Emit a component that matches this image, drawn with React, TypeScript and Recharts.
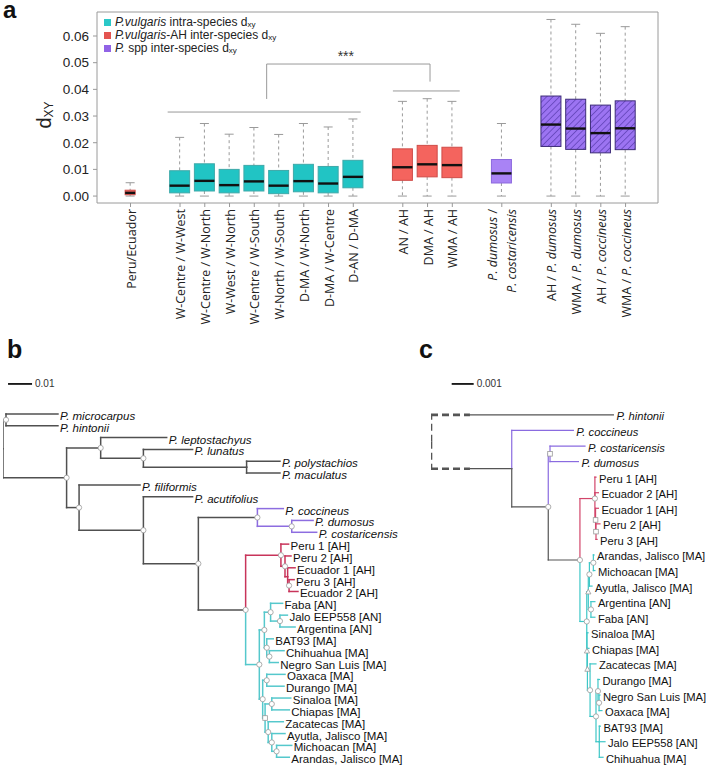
import React from 'react';
import {
  ComposedChart, ScatterChart, Scatter, Bar, XAxis, YAxis,
  ReferenceLine, ReferenceArea, ReferenceDot, Legend, Label,
} from 'recharts';

// ---------------- Panel a : data ----------------
const slots = [
  'Peru/Ecuador', '',
  'W-Centre / W-West', 'W-Centre / W-North', 'W-West / W-North', 'W-Centre / W-South',
  'W-North / W-South', 'D-MA / W-North', 'D-MA / W-Centre', 'D-AN / D-MA', '',
  'AN / AH', 'DMA / AH', 'WMA / AH', '',
  'P. dumosus /\nP. costaricensis', '',
  'AH / P. dumosus', 'WMA / P. dumosus', 'AH / P. coccineus', 'WMA / P. coccineus',
];
const boxGroups = ['ah', 'intra', 'intra', 'intra', 'intra', 'intra', 'intra', 'intra', 'intra',
  'ah', 'ah', 'ah', 'spp', 'hatch', 'hatch', 'hatch', 'hatch'];
const boxMin = [0, 0, 0, 0, 0, 0, 0, 0, 0, 0, 0, 0, 0, 0, 0, 0, 0];
const boxQ1 = [0.0005, 0.0012, 0.0019, 0.0012, 0.0019, 0.0009, 0.0016, 0.0012, 0.0031,
  0.0059, 0.0072, 0.0069, 0.0049, 0.0186, 0.0175, 0.0162, 0.0174];
const boxMed = [0.0012, 0.0039, 0.0057, 0.0041, 0.0055, 0.0039, 0.0056, 0.0047, 0.0072,
  0.0108, 0.0119, 0.0116, 0.0085, 0.0268, 0.0253, 0.0236, 0.0254];
const boxQ3 = [0.0022, 0.0095, 0.0121, 0.0100, 0.0115, 0.0096, 0.0119, 0.0111, 0.0134,
  0.0177, 0.0190, 0.0183, 0.0137, 0.0375, 0.0363, 0.0341, 0.0357];
const boxMax = [0.0050, 0.0220, 0.0272, 0.0232, 0.0257, 0.0231, 0.0272, 0.0259, 0.0289,
  0.0355, 0.0365, 0.0355, 0.0272, 0.0662, 0.0644, 0.0610, 0.0635];
const narrowBoxes = ['Peru/Ecuador'];
const yTicks = [0, 0.01, 0.02, 0.03, 0.04, 0.05, 0.06];
const xDomain: [number, number] = [-1.354, 21.31];
const yDomain: [number, number] = [-0.0026, 0.069];

const legendGroups = ['intra', 'ah', 'spp'];
const legendItalic = ['P.vulgaris', 'P.vulgaris', 'P.'];
const legendRest = [' intra-species d', '-AH inter-species d', ' spp inter-species d'];

// significance brackets [x1, y1, x2, y2]
const brackets: [number, number, number, number][] = [
  [1.5, 0.0315, 9.3, 0.0315],
  [10.6, 0.0394, 13.3, 0.0394],
  [5.5, 0.0364, 5.5, 0.0495],
  [5.5, 0.0495, 12.1, 0.0495],
  [12.1, 0.0495, 12.1, 0.0429],
];
const starMark = { x: 8.7, y: 0.0506, text: '***' };

const palette: Record<string, { fill: string; stroke: string; swatch: string }> = {
  intra: { fill: '#21c4c4', stroke: '#3ea9a9', swatch: '#2ac8c8' },
  ah: { fill: '#f4645e', stroke: '#cf4c48', swatch: '#e45450' },
  spp: { fill: '#a983f5', stroke: '#8c6ade', swatch: '#9163e6' },
  hatch: { fill: 'url(#hatchP)', stroke: '#3d2c78', swatch: '#9163e6' },
};

const boxPositions = slots.map((s, i) => (s ? i : -1)).filter((i) => i >= 0);
const boxData = boxPositions.map((pos, k) => ({
  pos, label: slots[pos], group: boxGroups[k],
  min: boxMin[k], q1: boxQ1[k], med: boxMed[k], q3: boxQ3[k], max: boxMax[k],
}));

const ARIAL = "'Liberation Sans', Arial, sans-serif";
const OPEN = "'Open Sans', sans-serif";

function rich(text: string) {
  const parts = text.split(/(P\. [a-z]+)/).filter(Boolean);
  return parts.map((p, i) =>
    /^P\. [a-z]+$/.test(p)
      ? <tspan key={i} fontStyle="italic">{p}</tspan>
      : <tspan key={i}>{p}</tspan>);
}

const BoxShape = (props: any) => {
  const { x, y, width, height, payload } = props;
  if (!payload) return null;
  const { min, q1, med, q3, max, group, label } = payload;
  const px = (v: number) => y + ((max - v) / (max - min)) * height;
  const cx = x + width / 2;
  const w = narrowBoxes.includes(label) ? 10 : 20;
  const st = palette[group];
  const cap = 4.5;
  return (
    <g>
      <line x1={cx} x2={cx} y1={px(max)} y2={px(q3)} stroke="#9a9a9a" strokeDasharray="3 3" />
      <line x1={cx} x2={cx} y1={px(q1)} y2={px(min)} stroke="#9a9a9a" strokeDasharray="3 3" />
      <line x1={cx - cap} x2={cx + cap} y1={px(max)} y2={px(max)} stroke="#9a9a9a" />
      <line x1={cx - cap} x2={cx + cap} y1={px(min)} y2={px(min)} stroke="#9a9a9a" />
      <rect x={cx - w / 2} y={px(q3)} width={w} height={px(q1) - px(q3)} fill={st.fill} stroke={st.stroke} strokeWidth={1} />
      <line x1={cx - w / 2} x2={cx + w / 2} y1={px(med)} y2={px(med)} stroke="#111" strokeWidth={2.4} />
    </g>
  );
};

const XTick = (props: any) => {
  const { x, y, payload } = props;
  const lbl = slots[Math.round(payload.value)] || '';
  const lines = lbl.split('\n');
  const n = lines.length;
  return (
    <g transform={`translate(${x},${y}) rotate(-90)`}>
      {lines.map((ln, i) => (
        <text key={i} x={0} y={(i - (n - 1) / 2) * 19} textAnchor="end" dominantBaseline="central"
          fontSize={12.5} fontFamily={OPEN} fill="#222">{rich(ln)}</text>
      ))}
    </g>
  );
};

const DxyLabel = () => (
  <text transform="translate(51,115) rotate(-90)" textAnchor="middle" fontFamily={ARIAL} fill="#222">
    <tspan fontSize={20}>d</tspan><tspan fontSize={12} dy={2}>XY</tspan>
  </text>
);

const StarShape = (p: any) => (
  <text x={p.cx} y={p.cy} textAnchor="middle" fontSize={14} fontFamily={ARIAL} fill="#333">{starMark.text}</text>
);

const LegendContent = () => (
  <div style={{ fontFamily: ARIAL, fontSize: 12, color: '#222', lineHeight: '13px' }}>
    {legendGroups.map((g, i) => (
      <div key={g} style={{ display: 'flex', alignItems: 'center', height: 13, whiteSpace: 'nowrap' }}>
        <span style={{ width: 7, height: 7, background: palette[g].swatch, marginRight: 4, display: 'inline-block' }} />
        <span style={{ lineHeight: '13px' }}>
          <i>{legendItalic[i]}</i>{legendRest[i]}
          <span style={{ fontSize: 8, lineHeight: '8px', position: 'relative', top: 1 }}>xy</span>
        </span>
      </div>
    ))}
  </div>
);

function PanelA() {
  return (
    <ComposedChart width={708} height={340} data={boxData} margin={{ top: 12, right: 50, bottom: 17, left: 0 }}>
      <defs>
        <pattern id="hatchP" patternUnits="userSpaceOnUse" width="4.5" height="4.5" patternTransform="rotate(45)">
          <rect width="4.5" height="4.5" fill="#9c74f2" />
          <line x1="0" y1="0" x2="0" y2="4.5" stroke="#5a3eb0" strokeWidth="1.4" />
        </pattern>
      </defs>
      <XAxis type="number" dataKey="pos" domain={xDomain} allowDataOverflow ticks={boxPositions}
        interval={0} tick={<XTick />} tickLine={{ stroke: '#999' }} tickSize={4} tickMargin={2}
        axisLine={false} height={120} />
      <YAxis type="number" domain={yDomain} allowDataOverflow ticks={yTicks} interval={0}
        tickFormatter={(v: number) => v.toFixed(2)} width={97}
        tick={{ fontSize: 13.5, fill: '#222', fontFamily: ARIAL }} tickLine={{ stroke: '#999' }}
        tickSize={4} tickMargin={4} axisLine={false}>
        <Label content={DxyLabel} />
      </YAxis>
      <ReferenceArea x1={xDomain[0]} x2={xDomain[1]} y1={yDomain[0]} y2={yDomain[1]}
        fill="none" stroke="#9a9a9a" strokeWidth={1} fillOpacity={0} ifOverflow="visible" />
      <Bar dataKey={(d: any) => [d.min, d.max]} barSize={20} shape={BoxShape} isAnimationActive={false} />
      {brackets.map((b, i) => (
        <ReferenceLine key={i} segment={[{ x: b[0], y: b[1] }, { x: b[2], y: b[3] }]}
          stroke="#999" strokeWidth={1} ifOverflow="visible" />
      ))}
      <ReferenceDot x={starMark.x} y={starMark.y} r={0} shape={StarShape} ifOverflow="visible" />
      <Legend content={LegendContent} layout="vertical" align="center" verticalAlign="middle"
        wrapperStyle={{ left: 104, top: 15.5, width: 320, height: 40 }} />
    </ComposedChart>
  );
}

// ---------------- Trees : data ----------------
// [id/label, parent, cumulative distance, colour key, node marker]
type TRow = [string, string, number, string, string?];

const treeB: TRow[] = [
  ['R', '', 0, 'k', ''],
  ['N1', 'R', 0.00125, 'k', 'o'],
  ['P. microcarpus', 'N1', 0.0229, 'k'],
  ['P. hintonii', 'N1', 0.0229, 'k'],
  ['N2', 'R', 0.0265, 'k', 'o'],
  ['N3', 'N2', 0.0407, 'k', 'o'],
  ['P. leptostachyus', 'N3', 0.0682, 'k'],
  ['N4', 'N3', 0.0585, 'k', 'o'],
  ['P. lunatus', 'N4', 0.0790, 'k'],
  ['N5', 'N4', 0.1015, 'k', ''],
  ['P. polystachios', 'N5', 0.1154, 'k'],
  ['P. maculatus', 'N5', 0.1154, 'k'],
  ['N6', 'N2', 0.0317, 'k', 'o'],
  ['P. filiformis', 'N6', 0.0571, 'k'],
  ['N7', 'N6', 0.0585, 'k', 'o'],
  ['P. acutifolius', 'N7', 0.0790, 'k'],
  ['N8', 'N7', 0.0814, 'k', 'o'],
  ['N9', 'N8', 0.1060, 'k', 'o'],
  ['P. coccineus', 'N9', 0.1168, 'p'],
  ['N10', 'N9', 0.1203, 'p', 'o'],
  ['P. dumosus', 'N10', 0.1292, 'p'],
  ['P. costaricensis', 'N10', 0.1307, 'p'],
  ['N11', 'N8', 0.1011, 'k', 'o'],
  ['A1', 'N11', 0.1158, 'r', 'o'],
  ['Peru 1 [AH]', 'A1', 0.1190, 'r'],
  ['A2', 'A1', 0.1175, 'r', 'o'],
  ['Peru 2 [AH]', 'A2', 0.1200, 'r'],
  ['A3', 'A2', 0.1186, 'r', ''],
  ['Ecuador 1 [AH]', 'A3', 0.1217, 'r'],
  ['A4', 'A3', 0.1192, 'r', 'o'],
  ['Peru 3 [AH]', 'A4', 0.1213, 'r'],
  ['Ecuador 2 [AH]', 'A4', 0.1229, 'r'],
  ['C0', 'N11', 0.1068, 'c', 'o'],
  ['C1', 'C0', 0.1089, 'c', 'o'],
  ['X1', 'C1', 0.1115, 'c', 'o'],
  ['Faba [AN]', 'X1', 0.1165, 'c'],
  ['JA', 'X1', 0.1154, 'c', 'o'],
  ['Jalo EEP558 [AN]', 'JA', 0.1185, 'c'],
  ['Argentina [AN]', 'JA', 0.1217, 'c'],
  ['X2', 'C1', 0.1099, 'c', 'o'],
  ['BAT93 [MA]', 'X2', 0.1126, 'c'],
  ['CN', 'X2', 0.1110, 'c', 'o'],
  ['Chihuahua [MA]', 'CN', 0.1171, 'c'],
  ['Negro San Luis [MA]', 'CN', 0.1147, 'c'],
  ['C2', 'C0', 0.1082, 'c', 'o'],
  ['X3', 'C2', 0.1099, 'c', 'o'],
  ['Oaxaca [MA]', 'X3', 0.1175, 'c'],
  ['Durango [MA]', 'X3', 0.1171, 'c'],
  ['C3', 'C2', 0.1092, 'c', 's'],
  ['X4', 'C3', 0.1120, 'c', 'o'],
  ['Sinaloa [MA]', 'X4', 0.1199, 'c'],
  ['Chiapas [MA]', 'X4', 0.1193, 'c'],
  ['X5', 'C3', 0.1105, 'c', 'o'],
  ['Zacatecas [MA]', 'X5', 0.1168, 'c'],
  ['X6', 'X5', 0.1120, 'c', 'o'],
  ['Ayutla, Jalisco [MA]', 'X6', 0.1175, 'c'],
  ['X7', 'X6', 0.1140, 'c', 'o'],
  ['Michoacan [MA]', 'X7', 0.1203, 'c'],
  ['Arandas, Jalisco [MA]', 'X7', 0.1193, 'c'],
];

const treeC: TRow[] = [
  ['R', '', 0, 'k', ''],
  ['P. hintonii', 'R', 0.00829, 'k'],
  ['N1', 'R', 0.00367, 'k', ''],
  ['P. coccineus', 'N1', 0.00647, 'p'],
  ['N2', 'N1', 0.00533, 'k', 'o'],
  ['D', 'N2', 0.00541, 'p', 's'],
  ['P. costaricensis', 'D', 0.00700, 'p'],
  ['P. dumosus', 'D', 0.00670, 'p'],
  ['V', 'N2', 0.00677, 'k', 'o'],
  ['A1', 'V', 0.00745, 'r', 'o'],
  ['Peru 1 [AH]', 'A1', 0.00750, 'r'],
  ['Ecuador 2 [AH]', 'A1', 0.00761, 'r'],
  ['A2', 'A1', 0.00748, 'r', 's'],
  ['Ecuador 1 [AH]', 'A2', 0.00761, 'r'],
  ['A3', 'A2', 0.00750, 'r', 's'],
  ['Peru 2 [AH]', 'A3', 0.00768, 'r'],
  ['Peru 3 [AH]', 'A3', 0.00755, 'r'],
  ['CC', 'V', 0.00708, 'c', 'o'],
  ['U', 'CC', 0.00715, 'c', 't'],
  ['AMA', 'U', 0.00720, 'c', 'o'],
  ['AM', 'AMA', 0.00738, 'c', 'o'],
  ['Arandas, Jalisco [MA]', 'AM', 0.00741, 'c'],
  ['Michoacan [MA]', 'AM', 0.00745, 'c'],
  ['Ayutla, Jalisco [MA]', 'AMA', 0.00732, 'c'],
  ['AF', 'U', 0.00727, 'c', 'o'],
  ['Argentina [AN]', 'AF', 0.00745, 'c'],
  ['Faba [AN]', 'AF', 0.00745, 'c'],
  ['L', 'CC', 0.00709, 'c', 't'],
  ['Sinaloa [MA]', 'L', 0.00714, 'c'],
  ['S2', 'L', 0.00711, 'c', 't'],
  ['Chiapas [MA]', 'S2', 0.00718, 'c'],
  ['S3', 'S2', 0.00723, 'c', 'o'],
  ['Zacatecas [MA]', 'S3', 0.00750, 'c'],
  ['DB', 'S3', 0.00750, 'c', 'o'],
  ['DNO', 'DB', 0.00759, 'c', 'o'],
  ['Durango [MA]', 'DNO', 0.00766, 'c'],
  ['NO', 'DNO', 0.00764, 'c', 'o'],
  ['Negro San Luis [MA]', 'NO', 0.00768, 'c'],
  ['Oaxaca [MA]', 'NO', 0.00777, 'c'],
  ['BJC', 'DB', 0.00765, 'c', ''],
  ['BAT93 [MA]', 'BJC', 0.00770, 'c'],
  ['Jalo EEP558 [AN]', 'BJC', 0.00791, 'c'],
  ['Chihuahua [MA]', 'BJC', 0.00782, 'c'],
];

const treeColorsB: Record<string, string> = { k: '#505050', p: '#8d6de0', r: '#c8345a', c: '#55c8cc' };
const treeColorsC: Record<string, string> = { k: '#555555', p: '#8a6be0', r: '#d2456a', c: '#3fc7c7' };

function layoutTree(rows: TRow[]) {
  const kids: Record<string, string[]> = {};
  const info: Record<string, { p: string; d: number; c: string; m: string }> = {};
  rows.forEach((r) => {
    info[r[0]] = { p: r[1], d: r[2], c: r[3], m: r[4] || '' };
    if (r[1]) (kids[r[1]] = kids[r[1]] || []).push(r[0]);
  });
  const y: Record<string, number> = {};
  let tip = 0;
  const visit = (id: string) => {
    const ch = kids[id];
    if (!ch) { y[id] = tip++; return; }
    ch.forEach(visit);
    y[id] = (y[ch[0]] + y[ch[ch.length - 1]]) / 2;
  };
  visit(rows[0][0]);
  return { kids, info, y };
}

const Marker = (p: any) => {
  const { cx, cy, payload } = p;
  const st = { fill: '#fff', stroke: '#9a9a9a', strokeWidth: 0.8 };
  if (payload.m === 's') return <rect x={cx - 2.3} y={cy - 2.3} width={4.6} height={4.6} {...st} />;
  if (payload.m === 't') return <path d={`M${cx},${cy - 2.8}L${cx + 2.6},${cy + 2}L${cx - 2.6},${cy + 2}Z`} {...st} />;
  return <circle cx={cx} cy={cy} r={2.6} {...st} />;
};

interface TreeProps {
  rows: TRow[]; colors: Record<string, string>; left: number; top: number; width: number; height: number;
  xMax: number; yDomain: [number, number]; lineW: number; labelDy: number; labelDx: number; fontSize: number;
  scaleBar: { x: number; len: number; y: number; text: string }; broken?: number;
}

function Tree(props: TreeProps) {
  const { rows, colors, left, top, width, height, xMax, yDomain: yd, lineW, labelDy, labelDx, fontSize, scaleBar, broken } = props;
  const { kids, info, y } = layoutTree(rows);
  const rootId = rows[0][0];
  const segs: { x1: number; y1: number; x2: number; y2: number; col: string; dash?: boolean }[] = [];
  rows.forEach((r) => {
    const id = r[0];
    const n = info[id];
    if (!n.p) return;
    const par = info[n.p];
    const col = colors[n.c];
    if (broken && n.p === rootId) {
      segs.push({ x1: par.d, y1: y[n.p], x2: par.d, y2: y[id], col: '#555', dash: true });
      segs.push({ x1: par.d, y1: y[id], x2: broken, y2: y[id], col: '#555', dash: true });
      segs.push({ x1: broken, y1: y[id], x2: n.d, y2: y[id], col });
    } else {
      segs.push({ x1: par.d, y1: y[n.p], x2: par.d, y2: y[id], col });
      segs.push({ x1: par.d, y1: y[id], x2: n.d, y2: y[id], col });
    }
  });
  const tips = rows.filter((r) => !kids[r[0]]).map((r) => ({ x: r[2], y: y[r[0]], label: r[0] }));
  const nodes = rows.filter((r) => kids[r[0]] && r[4]).map((r) => ({ x: r[2], y: y[r[0]], m: r[4] }));
  const sbLabel = [{ x: scaleBar.x + scaleBar.len, y: scaleBar.y, label: scaleBar.text }];
  return (
    <div style={{ position: 'absolute', left, top }}>
      <ScatterChart width={width} height={height} margin={{ top: 0, right: 0, bottom: 0, left: 0 }}>
        <XAxis type="number" dataKey="x" domain={[0, xMax]} allowDataOverflow hide height={0} />
        <YAxis type="number" dataKey="y" domain={yd} allowDataOverflow reversed hide width={0} />
        {segs.map((s, i) => (
          <ReferenceLine key={i} segment={[{ x: s.x1, y: s.y1 }, { x: s.x2, y: s.y2 }]}
            stroke={s.col} strokeWidth={s.dash ? 2.6 : lineW} strokeDasharray={s.dash ? '7 4' : undefined}
            strokeLinecap={s.dash ? 'butt' : 'square'} ifOverflow="visible" />
        ))}
        <ReferenceLine segment={[{ x: scaleBar.x, y: scaleBar.y }, { x: scaleBar.x + scaleBar.len, y: scaleBar.y }]}
          stroke="#111" strokeWidth={1.8} ifOverflow="visible" />
        <Scatter data={sbLabel} isAnimationActive={false}
          shape={(p: any) => (
            <text x={p.cx + 3} y={p.cy} dominantBaseline="central" fontSize={10} fontFamily={ARIAL} fill="#333">{p.payload.label}</text>
          )} />
        <Scatter data={nodes} isAnimationActive={false} shape={Marker} />
        <Scatter data={tips} isAnimationActive={false}
          shape={(p: any) => (
            <text x={p.cx + labelDx} y={p.cy + labelDy} dominantBaseline="central" fontSize={fontSize}
              fontFamily={ARIAL} fill="#111" fontStyle={p.payload.label.startsWith('P. ') ? 'italic' : 'normal'}>
              {p.payload.label}
            </text>
          )} />
      </ScatterChart>
    </div>
  );
}

const panelLetters = [
  { t: 'a', x: 3, y: 18, s: 24 },
  { t: 'b', x: 7, y: 358, s: 25 },
  { t: 'c', x: 419, y: 358, s: 25 },
];

export default function App() {
  return (
    <div style={{ position: 'absolute', left: 0, top: 0, width: 708, height: 766, background: '#fff', overflow: 'hidden' }}>
      <svg width={708} height={766} style={{ position: 'absolute', left: 0, top: 0 }}>
        {panelLetters.map((l) => (
          <text key={l.t} x={l.x} y={l.y} fontFamily={ARIAL} fontWeight="bold" fontSize={l.s} fill="#111">{l.t}</text>
        ))}
      </svg>
      <div style={{ position: 'absolute', left: 0, top: 0 }}>
        <PanelA />
      </div>
      <Tree rows={treeB} colors={treeColorsB} left={3} top={376} width={412} height={390}
        xMax={412 / 2400} yDomain={[-3.2, 29.74]} lineW={1.5} labelDy={2} labelDx={2} fontSize={11.5}
        scaleBar={{ x: 0.0021, len: 0.01, y: -2.53, text: '0.01' }} />
      <Tree rows={treeC} colors={treeColorsC} left={431} top={376} width={277} height={390}
        xMax={277 / 22000} yDomain={[-2.5, 22.56]} lineW={1.2} labelDy={1.5} labelDx={3} fontSize={11.2}
        scaleBar={{ x: 0.00094, len: 0.001, y: -1.99, text: '0.001' }} broken={0.00177} />
    </div>
  );
}
